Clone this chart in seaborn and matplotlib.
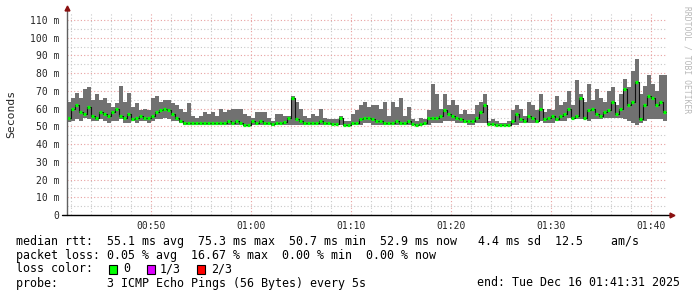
import numpy as np
import pandas as pd
import matplotlib
matplotlib.use("Agg")
import matplotlib.pyplot as plt
import seaborn as sns
from matplotlib.ticker import MultipleLocator, FuncFormatter
from matplotlib.patches import Rectangle

# ---- data (milliseconds), one sample every 24 s starting 00:41:36 ----
start_minute = 41.6
step_minute = 0.4

max_ms = [64, 66, 69, 66, 71, 72, 65, 68, 65, 66, 63, 61, 63, 73, 64, 69, 61, 63, 59, 60, 59, 66, 67, 64, 65,
          65, 63, 62, 60, 58, 63, 56, 55, 56, 58, 57, 58, 56, 60, 58, 59, 60, 60, 60, 57, 56, 55, 58, 58, 58,
          55, 53, 57, 57, 56, 56, 67, 64, 60, 56, 55, 57, 56, 60, 55, 54, 54, 54, 56, 53, 53, 57, 59, 62, 64,
          61, 62, 62, 60, 64, 56, 64, 61, 66, 56, 61, 54, 53, 55, 54, 59, 74, 68, 60, 68, 62, 65, 62, 57, 59,
          57, 57, 62, 64, 68, 53, 54, 53, 52, 52, 53, 59, 62, 60, 56, 64, 62, 59, 68, 58, 60, 59, 67, 62, 64,
          70, 62, 76, 68, 64, 74, 65, 71, 66, 64, 70, 72, 62, 68, 77, 72, 81, 88, 68, 73, 79, 74, 70, 79, 79, 70]

min_ms = [52.5, 53, 54, 53, 55, 54, 53, 53, 54, 53, 52, 53, 53, 54, 52, 52, 53, 52, 53, 53, 52, 53, 54, 54, 55,
          54, 53, 53, 52, 51, 51, 51, 51, 51, 51, 51, 51, 51, 51, 51, 51, 51, 51, 51, 50, 50, 51, 51, 51, 51,
          51, 50, 51, 51, 51, 51, 51, 51, 51, 51, 51, 51, 51, 51, 51, 51, 51, 50.5, 50.5, 50.5, 50.5, 51, 51, 51, 52,
          52, 51, 51, 51, 51, 51, 51, 51, 51, 51, 51, 50.5, 50.5, 51, 51, 51, 52, 52, 52, 53, 53, 53, 52, 52, 52,
          51, 51, 52, 52, 52, 51, 51, 50.5, 50.5, 50.5, 50.5, 51, 51, 52, 52, 52, 52, 52, 53, 52, 52, 52, 53, 53, 53,
          55, 54, 54, 54, 54, 53, 54, 54, 54, 55, 55, 55, 55, 55, 54, 53, 52, 51, 52, 53, 54, 54, 54, 54, 53, 53]

median_ms = [55, 60, 62, 58, 57, 61, 56, 55, 58, 57, 56, 58, 60, 56, 55, 57, 54, 55, 56, 55, 55, 56, 58, 59, 60,
             59, 57, 55, 53, 52, 52, 52, 52, 52, 52, 52, 52, 52, 52, 52, 53, 52, 53, 52, 51, 50.5, 53, 52, 53, 52,
             52, 51.5, 52, 52, 52.5, 55, 66, 54, 53, 52, 52, 52, 52, 53, 52, 52, 51.5, 51.5, 55, 51, 51, 52, 52, 54, 55,
             55, 54, 53, 53, 52, 52, 52, 53, 52, 52, 53, 51.5, 51, 51.5, 52, 55, 55, 55, 56, 59, 57, 56, 55, 54, 53,
             53, 53, 55, 58, 62, 51.5, 51.5, 51, 51, 51, 51, 53, 57, 54, 53, 56, 55, 53, 60, 54, 55, 56, 54, 56, 57,
             60, 55, 56, 66, 55, 59, 60, 57, 56, 58, 59, 64, 57, 60, 71, 62, 64, 75, 54, 62, 67, 66, 62, 64, 58, 55]

y_ticks = list(range(0, 111, 10))
x_tick_minutes = [50, 60, 70, 80, 90, 100]

legend_rows = [
    "median rtt:  55.1 ms avg  75.3 ms max  50.7 ms min  52.9 ms now   4.4 ms sd  12.5    am/s",
    "packet loss: 0.05 % avg  16.67 % max  0.00 % min  0.00 % now",
    "loss color:",
    "probe:       3 ICMP Echo Pings (56 Bytes) every 5s",
]
loss_labels = ["0", "1/3", "2/3"]
loss_colors = ["#00ff00", "#dd00ff", "#ff0000"]
end_text = "end: Tue Dec 16 01:41:31 2025"

# ---- figure ----
sns.set_style("white")
plt.rcParams["font.family"] = ["DejaVu Sans Mono", "DejaVu Sans"]

W, H = 697, 297
fig = plt.figure(figsize=(W / 100, H / 100), dpi=100)
fig.patch.set_facecolor("white")
ax = fig.add_axes([67 / W, (H - 215) / H, 600 / W, (215 - 13) / H])

n = len(median_ms)
t = start_minute + step_minute * np.arange(n)
df = pd.DataFrame({"t": t, "median": median_ms, "lo": min_ms, "hi": max_ms})

ax.set_xlim(start_minute, start_minute + 60)
ax.set_ylim(0, 113.95)

# grid
ax.xaxis.set_major_locator(MultipleLocator(10))
ax.xaxis.set_minor_locator(MultipleLocator(2))
ax.yaxis.set_major_locator(MultipleLocator(10))
ax.yaxis.set_minor_locator(MultipleLocator(5))
ax.grid(which="minor", color="#c8c8c8", linestyle=(0, (1, 2)), linewidth=0.8)
ax.grid(which="major", color="#e8a0a0", linestyle=(0, (1, 2)), linewidth=0.8)
ax.set_axisbelow(True)

# smoke
ax.fill_between(df["t"], df["lo"], df["hi"], step="post", color="#717171", linewidth=0, zorder=3)
# median
sns.lineplot(data=df, x="t", y="median", drawstyle="steps-post", color="#111111",
             linewidth=0.8, ax=ax, zorder=4)
ax.hlines(df["median"], df["t"], df["t"] + step_minute * 0.75, colors="#00ff00",
          linewidth=2.3, zorder=5)

ax.set_xlabel("")
ax.set_ylabel("Seconds", fontsize=8.2, labelpad=10)

ax.set_yticks(y_ticks)
ax.yaxis.set_major_formatter(FuncFormatter(lambda v, p: "0" if v == 0 else f"{int(round(v))} m"))
ax.set_xticks(x_tick_minutes)
ax.xaxis.set_major_formatter(FuncFormatter(lambda v, p: f"{int(v) // 60:02d}:{int(v) % 60:02d}"))
ax.tick_params(axis="both", which="major", labelsize=7, length=2.5, width=0.8,
               color="#404040", pad=2)
ax.tick_params(axis="both", which="minor", length=0)
ax.tick_params(axis="y", pad=3)

for s in ax.spines.values():
    s.set_visible(False)
# axis lines with arrows
ax.plot([0, 0], [0, 1.02], transform=ax.transAxes, color="#606060", lw=1, clip_on=False, zorder=6)
ax.plot([-0.008, 1.006], [0, 0], transform=ax.transAxes, color="#000000", lw=1, clip_on=False, zorder=6)
ax.plot([0], [1.025], marker="^", transform=ax.transAxes, color="#8b1010", markersize=3.5,
        clip_on=False, zorder=7)
ax.plot([1.009], [0], marker=">", transform=ax.transAxes, color="#8b1010", markersize=3.5,
        clip_on=False, zorder=7)

# watermark
fig.text(687 / W, 1 - 6 / H, "RRDTOOL / TOBI OETIKER", rotation=270, fontsize=5.8,
         color="#b8b8b8", ha="center", va="top")

# legend text
fs = 8.4
rows_y = [241, 255, 269, 283]
for txt, yy in zip(legend_rows, rows_y):
    fig.text(16 / W, 1 - yy / H, txt, fontsize=fs, ha="left", va="center", color="black")
fig.text(680 / W, 1 - rows_y[3] / H, end_text, fontsize=fs, ha="right", va="center", color="black")

box_x = [109, 147, 197]
lab_x = [123, 160, 211]
for bx, lx, c, lab in zip(box_x, lab_x, loss_colors, loss_labels):
    fig.patches.append(Rectangle((bx / W, 1 - (rows_y[2] + 4.5) / H), 8 / W, 9 / H,
                                 transform=fig.transFigure, facecolor=c, edgecolor="black",
                                 linewidth=0.8))
    fig.text(lx / W, 1 - rows_y[2] / H, lab, fontsize=fs, ha="left", va="center", color="black")

fig.savefig("out.png", dpi=100)
